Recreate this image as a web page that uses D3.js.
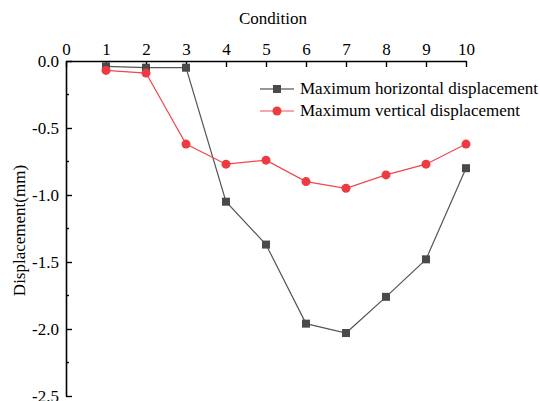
<!DOCTYPE html>
<html>
<head>
<meta charset="utf-8">
<script src="https://cdn.jsdelivr.net/npm/d3@7.9.0/dist/d3.min.js"></script>
<style>
  body { margin: 0; background: #fff; }
  svg text { font-family: 'Liberation Serif', 'Times New Roman', serif !important; }
</style>
</head>
<body>
<svg id="chart" width="540" height="401"></svg>
<script>
// chart data
const conditions = [1, 2, 3, 4, 5, 6, 7, 8, 9, 10];
const horizontal = [-0.04, -0.05, -0.05, -1.05, -1.37, -1.96, -2.03, -1.76, -1.48, -0.80];
const vertical = [-0.07, -0.09, -0.62, -0.77, -0.74, -0.90, -0.95, -0.85, -0.77, -0.62];
const xTicks = [0, 1, 2, 3, 4, 5, 6, 7, 8, 9, 10];
const yTicks = [0, -0.5, -1.0, -1.5, -2.0, -2.5];
const seriesNames = ['Maximum horizontal displacement', 'Maximum vertical displacement'];

const svg = d3.select('#chart');
const mLeft = 66, mRight = 466, mTop = 61, mBottom = 396;
const fs = 17;

const x = d3.scaleLinear().domain([0, 10]).range([mLeft, mRight]);
const y = d3.scaleLinear().domain([0, -2.5]).range([mTop, mBottom]);

// top x axis, ticks pointing inward
const xAxis = svg.append('g')
  .attr('transform', `translate(0,${mTop})`)
  .call(d3.axisTop(x).tickValues(xTicks).tickSize(-6).tickPadding(6).tickSizeOuter(0)
    .tickFormat(d3.format('d')));
xAxis.select('.domain').attr('stroke-width', 1.6);
xAxis.selectAll('.tick line').attr('stroke-width', 1.4);
xAxis.selectAll('text').attr('font-size', fs).attr('fill', '#000');

// left y axis with minor ticks
const yMinor = [-0.25, -0.75, -1.25, -1.75, -2.25];
svg.append('g')
  .attr('transform', `translate(${mLeft},0)`)
  .selectAll('line').data(yMinor).join('line')
  .attr('x1', 0).attr('x2', 3).attr('y1', d => y(d)).attr('y2', d => y(d))
  .attr('stroke', '#000').attr('stroke-width', 1.4);

const yAxis = svg.append('g')
  .attr('transform', `translate(${mLeft},0)`)
  .call(d3.axisLeft(y).tickValues(yTicks).tickSize(-6).tickPadding(7).tickSizeOuter(0));
yAxis.select('.domain').attr('stroke-width', 1.6);
yAxis.selectAll('.tick line').attr('stroke-width', 1.4);
yAxis.selectAll('text').attr('font-size', fs).attr('fill', '#000')
  .text(d => d.toFixed(1));

// axis titles
svg.append('text').attr('x', 273).attr('y', 24).attr('text-anchor', 'middle')
  .attr('font-size', fs).text('Condition');
svg.append('text').attr('transform', `translate(25,${(mTop + mBottom) / 2 + 2}) rotate(-90)`)
  .attr('text-anchor', 'middle').attr('font-size', fs).text('Displacement(mm)');

// lines
const line = d3.line().x(d => x(d[0])).y(d => y(d[1]));
const hData = conditions.map((c, i) => [c, horizontal[i]]);
const vData = conditions.map((c, i) => [c, vertical[i]]);

svg.append('path').datum(hData).attr('d', line)
  .attr('fill', 'none').attr('stroke', '#555').attr('stroke-width', 1.2);
svg.append('path').datum(vData).attr('d', line)
  .attr('fill', 'none').attr('stroke', '#f0474d').attr('stroke-width', 1.2);

const sq = 8;
svg.append('g').selectAll('rect').data(hData).join('rect')
  .attr('x', d => x(d[0]) - sq / 2).attr('y', d => y(d[1]) - sq / 2)
  .attr('width', sq).attr('height', sq).attr('fill', '#4a4a4a');
svg.append('g').selectAll('circle').data(vData).join('circle')
  .attr('cx', d => x(d[0])).attr('cy', d => y(d[1])).attr('r', 4.5)
  .attr('fill', '#ee3b41');

// legend
const legend = svg.append('g').attr('transform', 'translate(260,89)');
legend.append('line').attr('x1', 0).attr('x2', 34).attr('y1', 0).attr('y2', 0)
  .attr('stroke', '#333').attr('stroke-width', 1.2);
legend.append('rect').attr('x', 17 - sq / 2).attr('y', -sq / 2).attr('width', sq).attr('height', sq)
  .attr('fill', '#4a4a4a');
legend.append('text').attr('x', 40).attr('y', 5).attr('font-size', fs).text(seriesNames[0]);
legend.append('line').attr('x1', 0).attr('x2', 34).attr('y1', 22).attr('y2', 22)
  .attr('stroke', '#f5898c').attr('stroke-width', 1.4);
legend.append('circle').attr('cx', 17).attr('cy', 22).attr('r', 4.5).attr('fill', '#ee3b41');
legend.append('text').attr('x', 40).attr('y', 27).attr('font-size', fs).text(seriesNames[1]);
</script>
</body>
</html>
